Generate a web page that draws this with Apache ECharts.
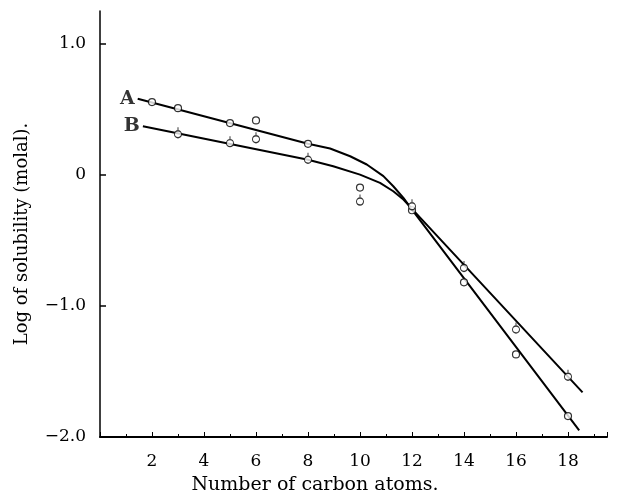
<!DOCTYPE html>
<html>
<head>
<meta charset="utf-8">
<script src="https://cdn.jsdelivr.net/npm/echarts@6/dist/echarts.min.js"></script>
<style>
  html, body { margin: 0; padding: 0; background: #fff; }
  #chart { width: 620px; height: 497px; }
</style>
</head>
<body>
<div id="chart"></div>
<script>
// measured points, curve A (open circles)
const carbonsA = [2, 3, 5, 6, 8, 10, 12, 14, 16, 18];
const logSolA = [0.555, 0.509, 0.395, 0.415, 0.237, -0.097, -0.27, -0.82, -1.37, -1.84];
// measured points, curve B (circles with a flag)
const carbonsB = [3, 5, 6, 8, 10, 12, 14, 16, 18];
const logSolB = [0.31, 0.242, 0.272, 0.115, -0.204, -0.24, -0.71, -1.18, -1.54];

// hand-drawn fitted curves
const curveAx = [1.45, 8, 8.85, 9.62, 10.26, 10.9, 11.28, 11.67, 12, 18.43];
const curveAy = [0.58, 0.237, 0.201, 0.142, 0.079, -0.01, -0.087, -0.176, -0.265, -1.95];
const curveBx = [1.65, 8, 8.97, 10, 10.77, 11.28, 11.67, 12, 18.56];
const curveBy = [0.37, 0.115, 0.066, 0.002, -0.061, -0.125, -0.188, -0.26, -1.66];

const xTicks = [2, 4, 6, 8, 10, 12, 14, 16, 18];
const yTicks = [-2, -1, 0, 1];
const curveNames = ['A', 'B'];

const zip = (xs, ys) => xs.map((x, i) => [x, ys[i]]);
const serif = '"DejaVu Serif", "Liberation Serif", serif';
const flagSymbol = 'path://M0,-10 L0,-5 M5,0 A5,5 0 1,1 -5,0 A5,5 0 1,1 5,0 Z';

const chart = echarts.init(document.getElementById('chart'));

chart.setOption({
  animation: false,
  backgroundColor: '#fff',
  grid: { left: 100, right: 13, top: 11, bottom: 60 },
  xAxis: {
    type: 'value',
    min: 0,
    max: 19.5,
    interval: 2,
    splitLine: { show: false },
    axisLine: { onZero: false, lineStyle: { color: '#000', width: 2 } },
    axisTick: { inside: true, length: 5, lineStyle: { color: '#000' } },
    minorTick: { show: true, splitNumber: 2, length: 3, lineStyle: { color: '#000' } },
    axisLabel: {
      customValues: xTicks,
      color: '#000',
      fontFamily: serif,
      fontSize: 17,
      margin: 16
    }
  },
  yAxis: {
    type: 'value',
    min: -2,
    max: 1.25,
    interval: 1,
    splitLine: { show: false },
    axisLine: { onZero: false, lineStyle: { color: '#000', width: 1.5 } },
    axisTick: { customValues: yTicks, inside: true, length: 6, lineStyle: { color: '#000', width: 1.5 } },
    axisLabel: {
      customValues: yTicks,
      color: '#000',
      fontFamily: serif,
      fontSize: 17,
      margin: 14,
      formatter: v => v === 0 ? '0' : (v < 0 ? '\u2212' : '') + Math.abs(v).toFixed(1)
    }
  },
  graphic: [
    {
      type: 'text', x: 315, y: 485,
      style: { text: 'Number of carbon atoms.', font: '19px ' + serif, fill: '#000', textAlign: 'center', textVerticalAlign: 'middle' }
    },
    {
      type: 'text', x: 22, y: 234, rotation: Math.PI / 2,
      style: { text: 'Log of solubility (molal).', font: '18px ' + serif, fill: '#000', textAlign: 'center', textVerticalAlign: 'middle' }
    }
  ],
  series: [
    {
      type: 'line',
      data: zip(curveAx, curveAy),
      showSymbol: false,
      lineStyle: { color: '#000', width: 2, join: 'round' },
      z: 2
    },
    {
      type: 'line',
      data: zip(curveBx, curveBy),
      showSymbol: false,
      lineStyle: { color: '#000', width: 2, join: 'round' },
      z: 2
    },
    {
      type: 'scatter',
      data: [[curveAx[0], curveAy[0], curveNames[0]], [curveBx[0], curveBy[0], curveNames[1]]],
      symbolSize: 0.1,
      label: {
        show: true,
        position: 'left',
        distance: 3,
        formatter: p => p.value[2],
        color: '#000',
        fontFamily: serif,
        fontWeight: 'bold',
        fontSize: 19
      },
      z: 3
    },
    {
      type: 'scatter',
      data: zip(carbonsA, logSolA),
      symbol: 'circle',
      symbolSize: 7,
      itemStyle: { color: '#fff', borderColor: '#000', borderWidth: 1.2 },
      z: 4
    },
    {
      type: 'scatter',
      data: zip(carbonsB, logSolB),
      symbol: flagSymbol,
      symbolSize: [7, 10.5],
      symbolOffset: [0, -1.75],
      itemStyle: { color: '#fff', borderColor: '#000', borderWidth: 1.2 },
      z: 4
    }
  ]
});
</script>
</body>
</html>
